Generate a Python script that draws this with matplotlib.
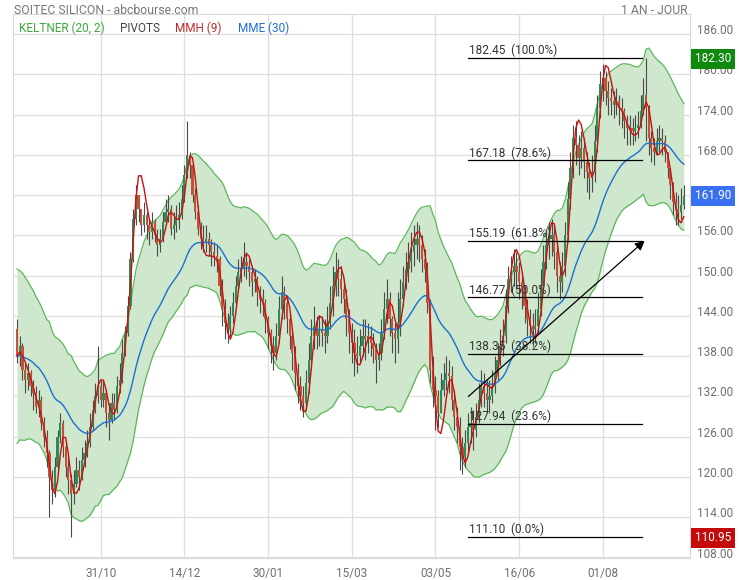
import numpy as np
import matplotlib.pyplot as plt
from matplotlib.transforms import blended_transform_factory

plt.rcParams['font.family'] = ['Roboto', 'DejaVu Sans']

# ---- data (daily candles, one year) ----
first_open = 142.0
closes = [
    138.0, 139.5, 136.0, 134.5, 135.5, 133.5, 132.5, 130.5, 131.5, 128.0,
    126.0, 123.5, 120.0, 118.0, 121.5, 126.0, 128.0, 124.5, 121.5, 119.5,
    117.5, 119.0, 121.0, 120.0, 122.5, 123.5, 125.0, 127.5, 130.0, 132.0,
    133.5, 131.5, 132.5, 129.5, 128.5, 131.0, 130.0, 133.5, 134.5, 138.5,
    141.5, 145.5, 152.5, 158.5, 162.0, 160.0, 157.5, 159.0, 157.5, 156.5,
    158.0, 156.0, 154.5, 155.5, 158.0, 159.5, 160.0, 157.0, 157.5, 158.5,
    159.0, 161.5, 165.0, 168.0, 166.5, 162.0, 159.5, 157.0, 155.5, 155.0,
    155.5, 154.5, 153.5, 153.0, 152.5, 148.5, 145.0, 143.0, 142.0, 144.0,
    146.0, 148.5, 150.5, 151.0, 152.0, 151.5, 150.5, 149.0, 149.5, 147.5,
    146.5, 146.0, 143.5, 141.5, 139.5, 138.5, 141.0, 145.0, 147.5, 146.0,
    143.5, 141.0, 138.5, 135.5, 133.5, 132.0, 131.0, 134.0, 137.5, 141.0,
    142.5, 141.0, 142.0, 141.5, 141.0, 143.0, 146.0, 148.5, 150.5, 149.5,
    148.0, 146.5, 143.5, 141.5, 140.0, 138.5, 138.0, 139.5, 141.0, 140.5,
    141.0, 140.0, 139.0, 137.5, 138.5, 141.5, 145.0, 146.5, 143.5, 141.5,
    140.5, 143.0, 146.5, 149.0, 151.0, 152.0, 153.5, 154.5, 155.5, 154.5,
    152.5, 151.0, 146.0, 136.0, 133.0, 132.0, 129.5, 133.0, 134.5, 135.5,
    135.0, 131.5, 129.0, 127.5, 124.5, 123.0, 125.0, 127.5, 128.0, 127.0,
    129.0, 131.5, 133.5, 132.5, 131.5, 132.0, 133.5, 135.5, 137.5, 139.5,
    141.0, 145.5, 149.5, 150.5, 151.5, 150.5, 149.0, 147.5, 145.5, 143.5,
    142.5, 142.0, 142.5, 145.0, 148.5, 152.0, 154.5, 155.5, 156.0, 153.5,
    150.0, 149.0, 151.5, 156.0, 161.5, 166.0, 170.5, 169.5, 167.5, 169.0,
    167.0, 165.5, 164.5, 165.5, 170.0, 175.0, 178.5, 179.5, 177.5, 176.5,
    176.0, 175.5, 176.0, 175.0, 174.5, 173.0, 172.0, 172.0, 171.5, 172.0,
    172.5, 174.5, 177.0, 175.0, 170.5, 169.0, 168.5, 170.0, 170.5, 170.0,
    168.5, 166.0, 163.5, 161.0, 160.0, 159.5, 160.5, 161.9,
]
highs = [
    143.5, 141.0, 140.0, 137.0, 137.0, 136.0, 134.5, 133.5, 133.0, 132.0,
    129.0, 127.0, 124.0, 121.0, 123.0, 127.0, 129.5, 128.5, 125.5, 123.0,
    120.5, 121.0, 123.0, 122.5, 124.5, 125.5, 127.0, 129.5, 131.5, 134.0,
    139.5, 134.5, 134.5, 133.0, 131.0, 132.5, 132.5, 135.0, 137.0, 140.5,
    142.5, 147.0, 153.5, 160.0, 163.5, 162.0, 160.0, 161.0, 159.5, 158.5,
    159.5, 158.5, 157.0, 157.0, 159.5, 161.5, 162.0, 160.5, 159.5, 160.5,
    161.0, 163.5, 166.5, 173.0, 168.5, 167.0, 163.0, 160.5, 158.0, 157.5,
    157.5, 156.5, 155.5, 155.0, 154.5, 153.0, 149.5, 146.5, 144.5, 145.5,
    147.5, 150.0, 152.5, 153.0, 155.0, 153.5, 152.5, 151.0, 151.0, 150.0,
    148.5, 148.0, 146.5, 144.0, 142.0, 141.0, 143.0, 147.0, 150.0, 148.5,
    147.0, 144.5, 142.0, 139.5, 137.0, 135.0, 133.5, 136.0, 140.0, 143.5,
    145.5, 144.0, 144.0, 144.0, 143.5, 145.5, 148.5, 151.5, 153.5, 152.5,
    151.5, 149.5, 148.0, 145.0, 143.0, 142.0, 141.0, 142.0, 143.5, 143.5,
    143.0, 142.5, 141.5, 140.0, 140.0, 143.5, 147.5, 149.5, 147.5, 144.0,
    143.0, 147.5, 149.5, 151.5, 153.5, 155.0, 156.5, 157.5, 158.0, 157.5,
    156.0, 154.0, 152.0, 146.5, 138.0, 135.0, 133.0, 135.5, 137.0, 138.0,
    137.5, 136.5, 133.0, 130.5, 129.0, 126.0, 127.0, 129.5, 130.5, 130.0,
    131.0, 134.0, 136.0, 135.5, 134.5, 134.5, 136.0, 138.0, 140.0, 142.0,
    143.5, 148.0, 151.5, 153.0, 154.0, 153.5, 152.0, 150.5, 148.5, 146.5,
    145.0, 144.5, 145.0, 147.5, 151.0, 154.5, 157.0, 158.0, 158.5, 157.5,
    154.5, 152.0, 153.5, 158.0, 164.0, 168.5, 172.5, 173.0, 171.0, 171.5,
    170.5, 168.5, 167.0, 168.0, 172.5, 177.0, 180.5, 181.5, 180.5, 179.0,
    178.0, 177.5, 178.0, 177.0, 176.5, 175.0, 174.0, 174.0, 173.5, 174.0,
    174.5, 177.0, 179.5, 182.45, 175.5, 171.5, 170.5, 172.0, 172.5, 172.0,
    171.0, 168.5, 166.0, 164.0, 162.5, 162.0, 163.0, 163.5,
]
lows = [
    137.0, 136.5, 134.5, 132.5, 133.0, 132.0, 130.0, 129.5, 129.0, 127.0,
    124.5, 121.5, 114.0, 116.0, 117.0, 121.0, 125.0, 123.0, 120.0, 117.5,
    111.1, 116.0, 118.5, 118.0, 119.5, 121.5, 123.0, 124.5, 127.0, 129.5,
    131.0, 130.5, 130.5, 127.5, 125.5, 128.0, 128.5, 129.5, 132.5, 134.0,
    138.0, 141.0, 145.0, 152.0, 157.5, 158.0, 156.0, 156.5, 155.5, 154.5,
    155.5, 155.0, 153.0, 153.5, 155.0, 157.5, 158.0, 156.0, 155.5, 156.5,
    157.0, 158.5, 161.0, 164.5, 164.5, 161.0, 158.5, 156.0, 154.0, 153.5,
    153.5, 153.0, 151.5, 151.5, 150.5, 147.0, 142.5, 140.5, 140.0, 141.0,
    143.0, 145.0, 148.0, 149.0, 150.0, 149.5, 148.5, 147.0, 147.5, 145.5,
    144.5, 144.0, 141.5, 139.0, 137.0, 136.0, 137.5, 140.0, 143.5, 143.5,
    141.5, 139.0, 136.0, 133.0, 131.0, 130.0, 129.0, 130.0, 132.5, 136.0,
    139.0, 139.0, 139.5, 139.5, 138.5, 140.0, 142.0, 144.0, 147.0, 147.0,
    146.0, 144.5, 141.0, 138.5, 137.0, 135.0, 135.5, 137.0, 138.0, 137.5,
    138.5, 138.0, 137.0, 134.0, 136.0, 137.5, 140.5, 143.0, 141.0, 138.5,
    137.0, 138.5, 141.0, 145.5, 148.0, 149.0, 150.5, 151.5, 152.5, 152.0,
    150.5, 149.0, 144.5, 134.0, 130.5, 127.0, 127.5, 129.5, 132.0, 133.0,
    132.5, 130.0, 127.0, 125.0, 121.0, 120.5, 121.5, 123.5, 125.0, 124.0,
    126.0, 128.0, 130.5, 130.5, 129.5, 129.5, 131.0, 132.5, 134.5, 136.5,
    138.0, 140.0, 144.5, 147.5, 148.5, 148.0, 146.5, 145.0, 143.0, 141.0,
    140.0, 139.5, 140.0, 141.5, 144.0, 147.5, 151.0, 152.5, 153.0, 151.0,
    147.5, 146.5, 147.5, 150.0, 155.0, 160.0, 164.5, 166.5, 165.0, 166.0,
    164.5, 162.5, 161.5, 162.5, 164.0, 168.5, 173.5, 176.0, 175.5, 174.0,
    174.0, 173.5, 174.0, 172.5, 172.0, 170.5, 169.5, 169.5, 169.5, 170.0,
    170.5, 172.0, 174.0, 170.0, 168.0, 167.0, 166.5, 168.0, 168.5, 168.0,
    167.0, 164.5, 161.5, 159.0, 157.5, 157.5, 158.5, 160.0,
]

date_ticks = [31, 62, 93, 124, 155, 186, 217]
date_labels = ['31/10', '14/12', '30/01', '15/03', '03/05', '16/06', '01/08']
price_ticks = [108, 114, 120, 126, 132, 138, 144, 150, 156, 162, 168, 174, 180, 186]

fib_prices = [182.45, 167.18, 155.19, 146.77, 138.35, 127.94, 111.10]
fib_pcts = ['100.0%', '78.6%', '61.8%', '50.0%', '38.2%', '23.6%', '0.0%']
fib_x = [167, 231.5]
trend_start = (167.2, 132.0)
trend_end = (232.5, 155.2)

badge_values = [182.30, 161.90, 110.95]
badge_colors = ['#0f8a0f', '#3a70f2', '#c40a0a']


# ---- indicators ----
def ema(x, n):
    a = 2.0 / (n + 1)
    out = np.empty(len(x))
    out[0] = x[0]
    for i in range(1, len(x)):
        out[i] = a * x[i] + (1 - a) * out[i - 1]
    return out


def wma(x, n):
    out = np.empty(len(x))
    for i in range(len(x)):
        w = x[max(0, i - n + 1):i + 1]
        k = np.arange(1, len(w) + 1)
        out[i] = (w * k).sum() / k.sum()
    return out


c = np.array(closes)
h = np.array(highs)
l = np.array(lows)
o = np.concatenate([[first_open], c[:-1]])
x = np.arange(len(c))

prev_c = np.concatenate([[o[0]], c[:-1]])
tr = np.maximum(h - l, np.maximum(abs(h - prev_c), abs(l - prev_c)))
kc_mid = ema(c, 20)
kc_atr = ema(tr, 20)
kc_up = kc_mid + 2 * kc_atr
kc_lo = kc_mid - 2 * kc_atr
mme = ema(c, 30)
mmh = wma(2 * wma(c, 4) - wma(c, 9), 3)

# ---- plot ----
fig = plt.figure(figsize=(7.39, 5.8), dpi=100)
ax = fig.add_axes([13 / 739, 1 - 557.5 / 580, 677 / 739, 543.5 / 580])

ax.fill_between(x, kc_lo, kc_up, color='#cfe7cc', lw=0, zorder=1)
ax.plot(x, kc_up, color='#5cb85c', lw=0.9, zorder=2)
ax.plot(x, kc_lo, color='#5cb85c', lw=0.9, zorder=2)

up = c >= o
ax.vlines(x, l, h, color='#4a4a4a', lw=0.8, zorder=3)
body_lo = np.minimum(o, c)
body_h = np.maximum(abs(c - o), 0.25)
ax.bar(x[up], body_h[up], bottom=body_lo[up], width=0.8,
       color='#2e8b57', lw=0, zorder=4)
ax.bar(x[~up], body_h[~up], bottom=body_lo[~up], width=0.8,
       color='#c4523a', lw=0, zorder=4)

ax.plot(x, mme, color='#1c6fd4', lw=1.0, zorder=5)
ax.plot(x, mmh, color='#cc1010', lw=1.0, zorder=6)

# fibonacci levels
for p, pct in zip(fib_prices, fib_pcts):
    ax.plot(fib_x, [p, p], color='black', lw=0.9, zorder=7)
    ax.annotate(f'{p:.2f}  ({pct})', (fib_x[0], p), xytext=(1, 2.5),
                textcoords='offset points', fontsize=8.5, color='#333333',
                va='baseline', ha='left', zorder=7)
ax.annotate('', xy=trend_end, xytext=trend_start,
            arrowprops=dict(arrowstyle='-|>', color='black', lw=0.9,
                            mutation_scale=14, shrinkA=0, shrinkB=0),
            zorder=7)

ax.set_xlim(-1.5, 249.3)
ax.set_ylim(108.0, 189.0)
ax.set_xticks(date_ticks)
ax.set_xticklabels(date_labels)
ax.set_yticks(price_ticks)
ax.set_yticklabels([f'{t:.2f}' for t in price_ticks], va='baseline')
ax.yaxis.tick_right()
ax.tick_params(length=0, labelsize=8.5, colors='#6f6f6f')
ax.tick_params(axis='x', pad=7)
ax.tick_params(axis='y', pad=5)
ax.grid(True, color='#dedede', lw=0.9)
ax.set_axisbelow(True)
for s in ax.spines.values():
    s.set_color('#d8d8d8')

trans = blended_transform_factory(ax.transAxes, ax.transData)
for v, col in zip(badge_values, badge_colors):
    ax.text(1 + 5 / 677, v, f'{v:.2f}', transform=trans, fontsize=8.5,
            color='white', va='center', ha='left', clip_on=False, zorder=10,
            bbox=dict(boxstyle='square,pad=0.3', facecolor=col, edgecolor='none'))

# legend row
legend = [('KELTNER (20, 2)', '#3aa83a', 19), ('PIVOTS', '#444444', 120),
          ('MMH (9)', '#c62828', 175), ('MME (30)', '#1f6fd0', 238)]
for txt, col, px in legend:
    ax.text((px - 13) / 677, (557.5 - 28) / 543.5, txt, transform=ax.transAxes,
            fontsize=8.5, color=col, va='center', ha='left', zorder=8)

fig.text(14 / 739, 1 - 11 / 580, 'SOITEC SILICON - abcbourse.com', fontsize=8.8,
         color='#777777', va='center', ha='left')
fig.text(688 / 739, 1 - 11 / 580, '1 AN - JOUR', fontsize=8.8,
         color='#777777', va='center', ha='right')

fig.savefig('out.png', dpi=100)
